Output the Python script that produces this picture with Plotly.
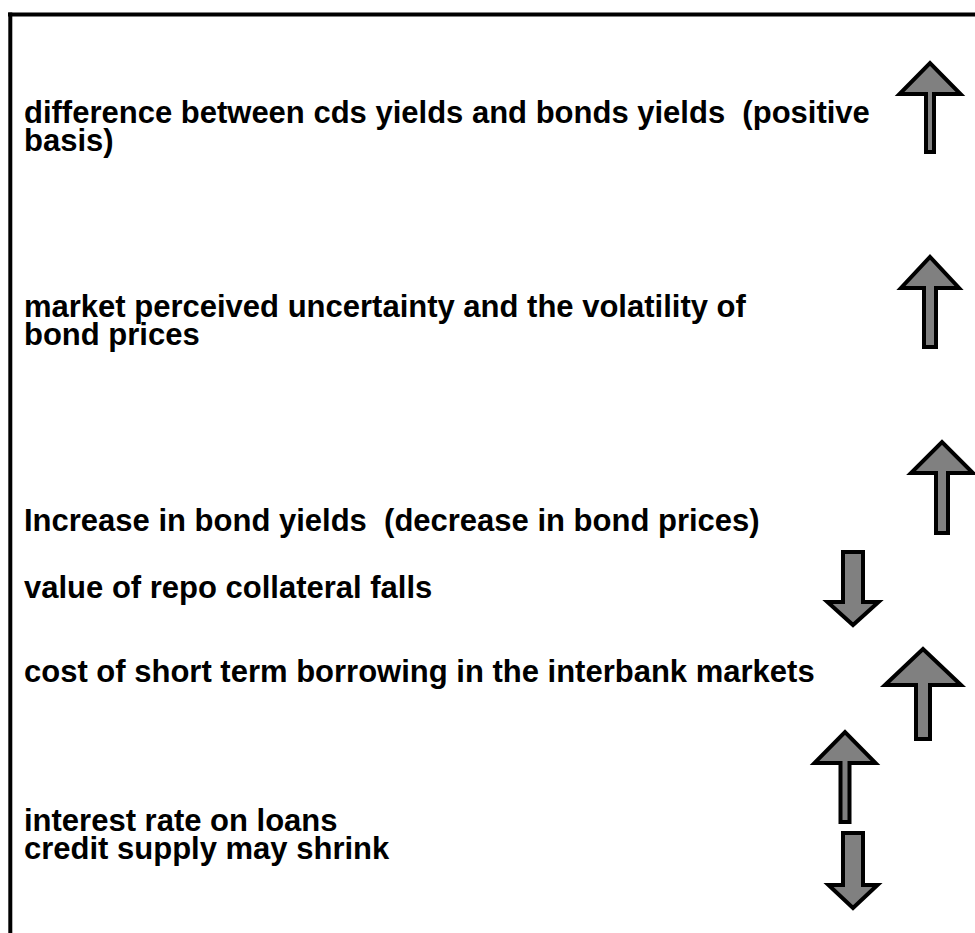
import plotly.graph_objects as go

# ---- content ----
labels = [
    "difference between cds yields and bonds yields  (positive",
    "basis)",
    "market perceived uncertainty and the volatility of",
    "bond prices",
    "Increase in bond yields  (decrease in bond prices)",
    "value of repo collateral falls",
    "cost of short term borrowing in the interbank markets",
    "interest rate on loans",
    "credit supply may shrink",
]
arrow_directions = ["up", "up", "up", "down", "up", "up", "down"]

# ---- layout (pixel positions of the diagram) ----
W, H = 975, 933
label_y = [112, 140, 306, 334, 520, 587, 671, 820, 848]
label_x = 22
# arrow geometry: centre x, tail y, head-base y, tip y, head half width, shaft half width
arrow_cx = [930, 930, 942, 853, 923, 845, 853]
arrow_tail = [152, 347, 533, 552, 739, 822, 833]
arrow_base = [94, 288, 473, 602, 685, 763, 885]
arrow_tip = [63, 257, 442, 625, 649, 732, 908]
arrow_hw = [30.5, 29, 31, 25.5, 38, 30.5, 24.5]
arrow_sw = [4, 6, 6, 10, 7, 4.5, 10]

fig = go.Figure()
fig.add_trace(go.Scatter(x=[0, W], y=[0, H], mode="markers", marker=dict(opacity=0),
                         hoverinfo="skip", showlegend=False))

shapes = []
# frame: top and left lines
shapes.append(dict(type="line", x0=8, y0=14.5, x1=W + 5, y1=14.5,
                   line=dict(color="black", width=4)))
shapes.append(dict(type="line", x0=10.3, y0=12.5, x1=10.3, y1=H + 5,
                   line=dict(color="black", width=4)))

for d, cx, t, b, p, hw, sw in zip(arrow_directions, arrow_cx, arrow_tail, arrow_base,
                                   arrow_tip, arrow_hw, arrow_sw):
    path = (f"M {cx - sw} {t} L {cx - sw} {b} L {cx - hw} {b} L {cx} {p} "
            f"L {cx + hw} {b} L {cx + sw} {b} L {cx + sw} {t} Z")
    shapes.append(dict(type="path", path=path, fillcolor="#808080",
                       line=dict(color="black", width=4), layer="above"))

annotations = []
for txt, y in zip(labels, label_y):
    annotations.append(dict(x=label_x, y=y, xref="x", yref="y", text=f"<b>{txt}</b>",
                            showarrow=False, xanchor="left", yanchor="middle",
                            font=dict(family="Liberation Sans, Arial, sans-serif",
                                      size=31, color="black")))

fig.update_layout(
    width=W, height=H,
    margin=dict(l=0, r=0, t=0, b=0),
    paper_bgcolor="white", plot_bgcolor="white",
    xaxis=dict(range=[0, W], visible=False, fixedrange=True),
    yaxis=dict(range=[H, 0], visible=False, fixedrange=True),
    shapes=shapes, annotations=annotations, showlegend=False,
)
fig.write_html("out.html", config={"displayModeBar": False},
               post_script="document.body.style.margin='0';document.body.style.overflow='hidden';")
